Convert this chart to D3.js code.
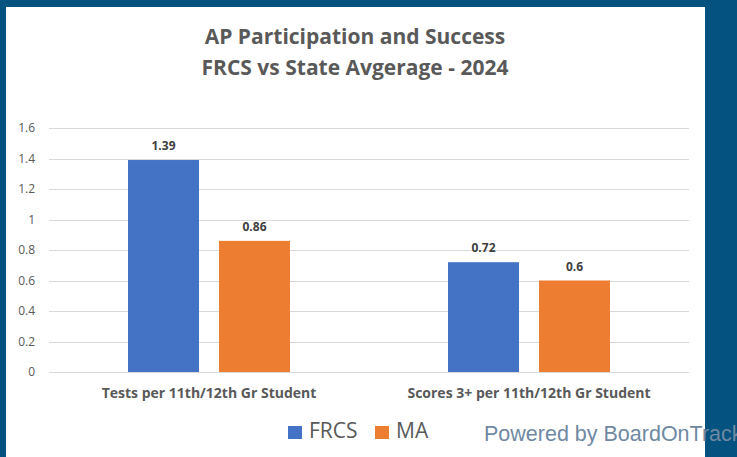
<!DOCTYPE html>
<html><head><meta charset="utf-8">
<script src="https://cdn.jsdelivr.net/npm/d3@7"></script>
<style>html,body{margin:0;padding:0;background:#03527f;overflow:hidden}</style>
</head><body>
<svg id="c" width="737" height="457"></svg>
<script>
const categories = ["Tests per 11th/12th Gr Student", "Scores 3+ per 11th/12th Gr Student"];
const seriesNames = ["FRCS", "MA"];
const frcsValues = [1.39, 0.72];
const maValues = [0.86, 0.6];
const yTicks = [0, 0.2, 0.4, 0.6, 0.8, 1, 1.2, 1.4, 1.6];
const titleLines = ["AP Participation and Success", "FRCS vs State Avgerage - 2024"];
const colors = ["#4472C4", "#ED7D31"];

(function () {
const svg = d3.select("#c");
svg.append("rect").attr("x", 6).attr("y", 7).attr("width", 699).attr("height", 460).attr("fill", "#fff");

const pl = 49, pr = 689, pt = 128, pb = 372;
const y = d3.scaleLinear().domain([0, 1.6]).range([pb, pt]);
const x0 = d3.scaleBand().domain(categories).range([pl, pr]).paddingInner(0).paddingOuter(0);
const x1 = d3.scaleBand().domain(seriesNames).range([0, 162]).paddingInner(20/91);
const groupOff = (x0.bandwidth() - 162) / 2;

const font = "'Open Sans', sans-serif";
const textCol = "#595959";

svg.append("g").selectAll("line").data(yTicks).join("line")
  .attr("x1", pl).attr("x2", pr)
  .attr("y1", d => Math.round(y(d)) + 0.5).attr("y2", d => Math.round(y(d)) + 0.5)
  .attr("stroke", "#d9d9d9").attr("stroke-width", 1);

svg.append("g").selectAll("text").data(yTicks).join("text")
  .attr("x", 35).attr("y", d => y(d)).attr("dy", "0.35em")
  .attr("text-anchor", "end").attr("font-family", font).attr("font-size", 12).attr("fill", textCol)
  .text(d => d);

const data = categories.map((c, i) => ({c, vals: [frcsValues[i], maValues[i]]}));

const g = svg.append("g").selectAll("g").data(data).join("g")
  .attr("transform", d => `translate(${x0(d.c) + groupOff},0)`);

g.selectAll("rect").data(d => d.vals.map((v, j) => ({v, s: seriesNames[j], j}))).join("rect")
  .attr("x", d => x1(d.s)).attr("width", x1.bandwidth())
  .attr("y", d => y(d.v)).attr("height", d => y(0) - y(d.v))
  .attr("fill", d => colors[d.j]);

g.selectAll("text").data(d => d.vals.map((v, j) => ({v, s: seriesNames[j], j}))).join("text")
  .attr("x", d => x1(d.s) + x1.bandwidth() / 2).attr("y", d => y(d.v) - 10)
  .attr("text-anchor", "middle").attr("font-family", font).attr("font-weight", "bold")
  .attr("font-size", 12).attr("fill", "#404040").text(d => d.v);

svg.append("g").selectAll("text").data(categories).join("text")
  .attr("x", d => x0(d) + x0.bandwidth() / 2).attr("y", 393.5).attr("dy", "0.35em")
  .attr("text-anchor", "middle").attr("font-family", font).attr("font-weight", "bold")
  .attr("font-size", 14).attr("fill", textCol).text(d => d);

svg.append("g").selectAll("text").data(titleLines).join("text")
  .attr("x", 355).attr("y", (d, i) => 37 + i * 31).attr("dy", "0.35em")
  .attr("text-anchor", "middle").attr("font-family", font).attr("font-weight", "bold")
  .attr("font-size", 21).attr("fill", textCol).text(d => d);

const legendX = [288, 375];
const lg = svg.append("g").selectAll("g").data(seriesNames).join("g")
  .attr("transform", (d, i) => `translate(${legendX[i]},426)`);
lg.append("rect").attr("width", 14).attr("height", 13).attr("fill", (d, i) => colors[i]);
lg.append("text").attr("x", 21).attr("y", 5).attr("dy", "0.35em")
  .attr("font-family", font).attr("font-size", 21).attr("fill", textCol).text(d => d);

svg.append("text").attr("x", 484).attr("y", 441)
  .attr("font-family", "'Liberation Sans', Arial, sans-serif").attr("font-size", 21.5)
  .attr("fill", "#7089a2").text("Powered by BoardOnTrack");
})();
</script>
</body></html>
